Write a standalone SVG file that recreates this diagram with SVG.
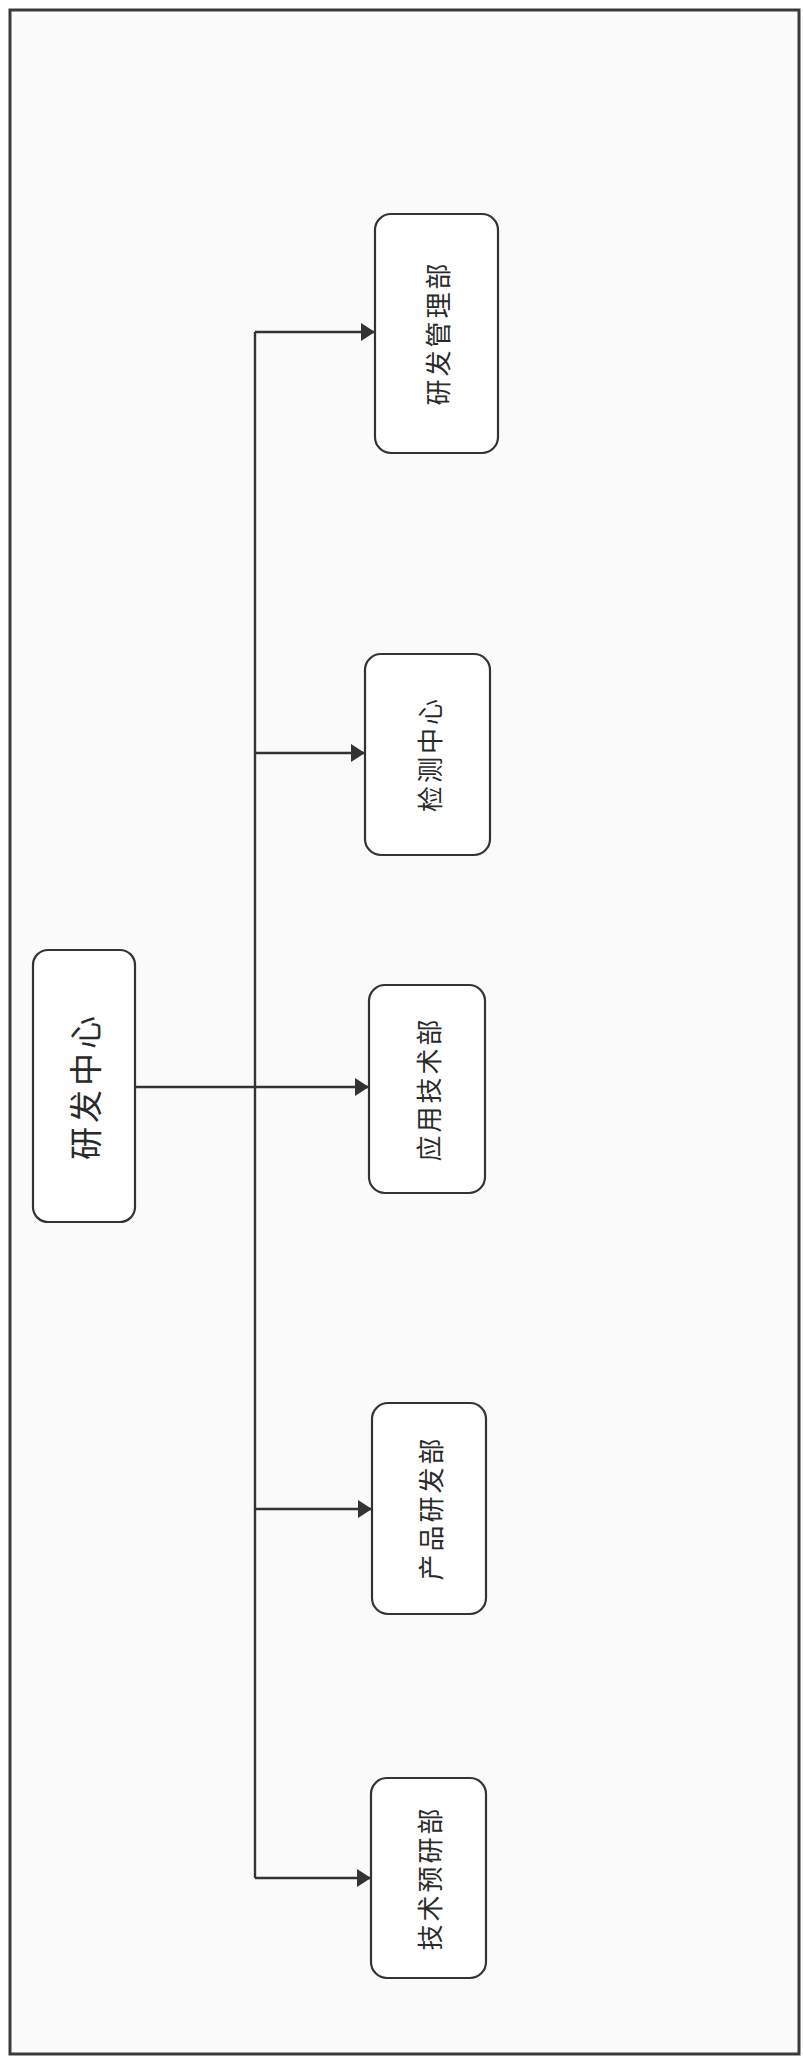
<svg xmlns="http://www.w3.org/2000/svg" width="803" height="2060" viewBox="0 0 803 2060">
<style>
.box{fill:#ffffff;stroke:#333;stroke-width:2.2}
.lbl{font-family:"Noto Sans CJK SC","Noto Sans CJK JP",sans-serif;fill:#2a2a2a;text-anchor:middle;dominant-baseline:central;font-weight:400}
.sm{font-size:26px;letter-spacing:3px}
.lg{font-size:33px;letter-spacing:4px}
.conn{fill:none;stroke:#333;stroke-width:2.4}
</style>
<defs>
<marker id="arr" viewBox="0 0 14 18" refX="14" refY="9" markerWidth="14" markerHeight="18" markerUnits="userSpaceOnUse" orient="auto">
<path d="M0,0 L14,9 L0,18 Z" fill="#333"/>
</marker>
</defs>
<rect x="0" y="0" width="803" height="2060" fill="#ffffff"/>
<rect x="10" y="10" width="789" height="2044" fill="#fafafa" stroke="#3a3a3a" stroke-width="3"/>
<g id="connectors">
<path class="conn" d="M255,1878 L255,332"/>
<path class="conn" d="M136,1087 L369,1087" marker-end="url(#arr)"/>
<path class="conn" d="M255,332 L375,332" marker-end="url(#arr)"/>
<path class="conn" d="M255,753 L365,753" marker-end="url(#arr)"/>
<path class="conn" d="M255,1509 L372,1509" marker-end="url(#arr)"/>
<path class="conn" d="M255,1878 L371,1878" marker-end="url(#arr)"/>
</g>
<g id="node-center">
<rect class="box" x="33" y="950" width="102" height="272" rx="15"/>
<text class="lbl lg" x="84" y="1086" transform="rotate(-90 84 1086)">研发中心</text>
</g>
<g id="node-mgmt">
<rect class="box" x="375" y="214" width="123" height="239" rx="16"/>
<text class="lbl sm" x="436" y="333" transform="rotate(-90 436 333)">研发管理部</text>
</g>
<g id="node-test">
<rect class="box" x="365" y="654" width="125" height="201" rx="16"/>
<text class="lbl sm" x="428" y="754" transform="rotate(-90 428 754)">检测中心</text>
</g>
<g id="node-app">
<rect class="box" x="369" y="985" width="116" height="208" rx="16"/>
<text class="lbl sm" x="427" y="1089" transform="rotate(-90 427 1089)">应用技术部</text>
</g>
<g id="node-prod">
<rect class="box" x="372" y="1403" width="114" height="211" rx="16"/>
<text class="lbl sm" x="429" y="1508" transform="rotate(-90 429 1508)">产品研发部</text>
</g>
<g id="node-pre">
<rect class="box" x="371" y="1778" width="115" height="200" rx="16"/>
<text class="lbl sm" x="428" y="1878" transform="rotate(-90 428 1878)">技术预研部</text>
</g>
</svg>
